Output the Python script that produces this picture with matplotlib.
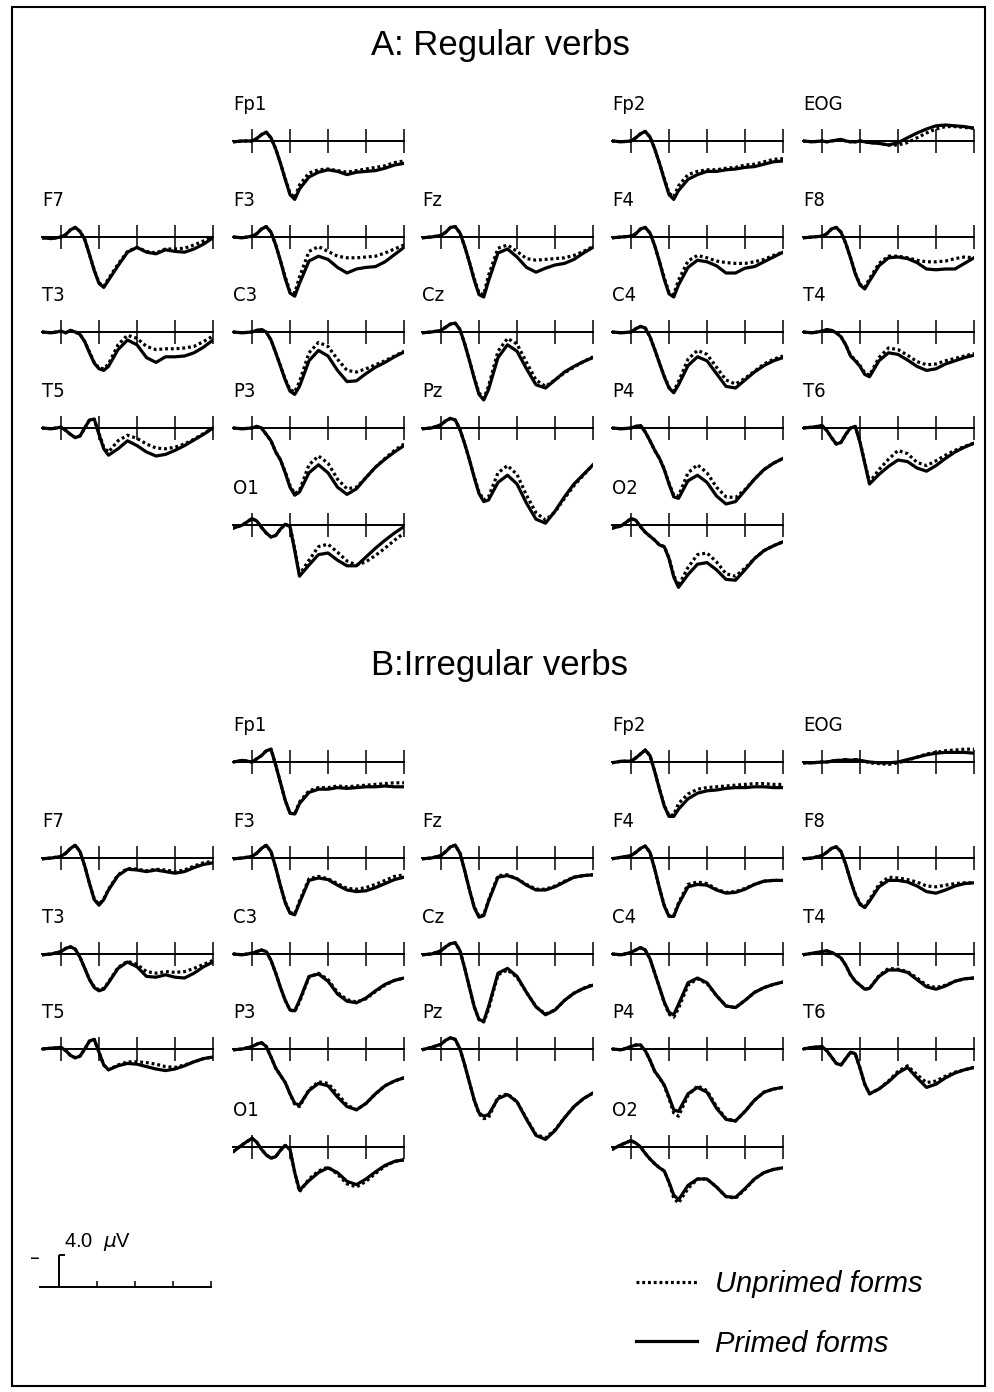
import matplotlib.pyplot as plt
from matplotlib.patches import Rectangle

# sample times (ms) shared by every waveform
times = [-100, -50, 0, 25, 50, 75, 100, 125, 150, 175, 200, 225, 250,
         300, 350, 400, 450, 500, 550, 600, 650, 700, 750, 800]

# amplitudes in microvolts (positive plotted downwards); _p = primed, _u = unprimed
# A: regular verbs
reg_Fp1_p = [0.1, 0.0, 0.0, -0.3, -0.8, -1.1, -0.4, 1.0, 2.8, 4.8, 6.7, 7.3, 6.0, 4.5, 3.9, 3.6, 3.8, 4.2, 3.9, 3.8, 3.7, 3.4, 3.0, 2.8]
reg_Fp1_u = [0.1, 0.0, 0.0, -0.3, -0.8, -1.1, -0.4, 1.0, 2.8, 4.7, 6.5, 7.1, 5.5, 4.0, 3.6, 3.5, 3.7, 3.9, 3.7, 3.5, 3.3, 3.1, 2.7, 2.5]
reg_Fp2_p = [0.0, 0.1, 0.0, -0.4, -0.9, -1.2, -0.5, 1.0, 2.8, 4.8, 6.7, 7.3, 6.2, 4.8, 4.2, 3.8, 3.8, 3.6, 3.5, 3.3, 3.2, 2.9, 2.6, 2.5]
reg_Fp2_u = [0.0, 0.1, 0.0, -0.4, -0.9, -1.2, -0.5, 1.0, 2.8, 4.7, 6.5, 7.0, 5.6, 4.2, 3.8, 3.6, 3.6, 3.4, 3.3, 3.0, 2.9, 2.6, 2.3, 2.2]
reg_EOG_p = [0.0, 0.1, 0.0, 0.1, 0.0, -0.1, -0.2, 0.0, 0.1, 0.1, 0.0, 0.1, 0.2, 0.3, 0.5, 0.2, -0.4, -1.0, -1.5, -1.9, -2.0, -1.9, -1.8, -1.6]
reg_EOG_u = [0.0, 0.1, 0.0, 0.1, 0.0, -0.1, -0.2, 0.0, 0.1, 0.1, 0.0, 0.1, 0.2, 0.3, 0.5, 0.5, 0.2, -0.4, -1.0, -1.5, -1.8, -1.8, -1.7, -1.6]
reg_F7_p = [0.1, 0.2, 0.0, -0.3, -0.9, -1.2, -0.7, 0.3, 2.2, 4.2, 5.8, 6.3, 5.4, 3.6, 1.9, 1.3, 1.9, 2.1, 1.6, 1.8, 1.9, 1.5, 0.9, 0.1]
reg_F7_u = [0.1, 0.2, 0.0, -0.3, -0.9, -1.2, -0.7, 0.3, 2.2, 4.1, 5.7, 6.2, 5.2, 3.4, 1.8, 1.3, 1.8, 2.0, 1.5, 1.5, 1.4, 1.0, 0.5, 0.0]
reg_F3_p = [0.0, 0.1, -0.1, -0.4, -1.0, -1.3, -0.6, 1.0, 3.0, 5.2, 7.0, 7.4, 5.8, 3.0, 2.4, 2.8, 3.8, 4.5, 4.0, 3.8, 3.7, 3.1, 2.2, 1.3]
reg_F3_u = [0.0, 0.1, -0.1, -0.4, -1.0, -1.3, -0.6, 1.0, 3.0, 5.0, 6.8, 7.0, 5.0, 1.8, 1.2, 1.8, 2.4, 2.6, 2.6, 2.5, 2.4, 2.0, 1.5, 1.0]
reg_Fz_p = [0.1, 0.0, -0.2, -0.6, -1.2, -1.3, -0.5, 1.2, 3.2, 5.4, 7.2, 7.5, 5.5, 2.0, 1.5, 2.5, 3.8, 4.4, 3.9, 3.5, 3.3, 2.8, 2.0, 1.3]
reg_Fz_u = [0.1, 0.0, -0.2, -0.6, -1.2, -1.3, -0.5, 1.2, 3.2, 5.2, 7.0, 7.2, 4.8, 1.4, 1.0, 1.8, 2.7, 2.9, 2.8, 2.7, 2.6, 2.3, 1.8, 1.2]
reg_F4_p = [0.1, 0.0, -0.1, -0.4, -1.0, -1.2, -0.5, 1.1, 3.1, 5.3, 7.1, 7.5, 6.0, 3.8, 2.9, 3.1, 3.6, 4.5, 4.5, 3.9, 3.7, 3.1, 2.5, 1.9]
reg_F4_u = [0.1, 0.0, -0.1, -0.4, -1.0, -1.2, -0.5, 1.1, 3.1, 5.1, 6.9, 7.2, 5.4, 3.0, 2.3, 2.6, 3.0, 3.2, 3.3, 3.3, 3.1, 2.8, 2.3, 1.9]
reg_F8_p = [0.1, 0.0, -0.1, -0.4, -1.0, -1.2, -0.6, 0.8, 2.6, 4.6, 6.0, 6.5, 5.5, 3.6, 2.6, 2.5, 2.7, 3.2, 4.0, 4.1, 4.0, 4.0, 3.3, 2.6]
reg_F8_u = [0.1, 0.0, -0.1, -0.4, -1.0, -1.2, -0.6, 0.8, 2.6, 4.5, 5.9, 6.3, 5.2, 3.3, 2.4, 2.4, 2.6, 2.9, 3.1, 3.1, 3.0, 2.7, 2.5, 2.6]
reg_T3_p = [0.0, 0.1, -0.1, 0.1, -0.2, 0.0, 0.3, 1.2, 2.6, 3.9, 4.6, 4.8, 4.3, 2.2, 1.0, 1.6, 3.2, 3.8, 3.1, 3.1, 3.0, 2.6, 1.9, 1.0]
reg_T3_u = [0.0, 0.1, -0.1, 0.1, -0.2, 0.0, 0.3, 1.2, 2.5, 3.8, 4.5, 4.6, 4.0, 1.6, 0.4, 0.8, 1.8, 2.2, 2.1, 2.1, 2.0, 1.8, 1.2, 0.5]
reg_C3_p = [0.0, 0.1, 0.0, -0.2, -0.3, 0.0, 1.0, 2.6, 4.3, 6.0, 7.4, 7.8, 6.8, 3.6, 2.3, 3.0, 4.8, 6.2, 6.1, 5.2, 4.4, 3.8, 3.1, 2.5]
reg_C3_u = [0.0, 0.1, 0.0, -0.2, -0.3, 0.0, 1.0, 2.6, 4.2, 5.9, 7.2, 7.5, 6.2, 2.6, 1.3, 1.8, 3.4, 4.8, 5.0, 4.6, 4.1, 3.6, 3.0, 2.4]
reg_Cz_p = [0.1, 0.0, -0.2, -0.6, -1.0, -1.1, -0.3, 1.5, 3.6, 5.8, 7.8, 8.5, 7.2, 3.2, 1.6, 2.4, 4.6, 6.6, 7.0, 6.0, 5.0, 4.3, 3.7, 3.2]
reg_Cz_u = [0.1, 0.0, -0.2, -0.6, -1.0, -1.1, -0.3, 1.5, 3.6, 5.7, 7.6, 8.3, 6.8, 2.4, 0.8, 1.5, 3.8, 6.0, 6.8, 6.0, 5.1, 4.4, 3.7, 3.1]
reg_C4_p = [0.0, 0.1, 0.0, -0.4, -0.7, -0.5, 0.6, 2.2, 3.9, 5.6, 7.0, 7.6, 6.6, 4.2, 3.1, 3.6, 5.2, 6.8, 7.0, 6.0, 5.0, 4.2, 3.6, 3.2]
reg_C4_u = [0.0, 0.1, 0.0, -0.4, -0.7, -0.5, 0.6, 2.2, 3.9, 5.5, 6.9, 7.4, 6.2, 3.4, 2.3, 2.8, 4.4, 6.0, 6.5, 5.8, 4.9, 4.0, 3.4, 3.0]
reg_T4_p = [0.0, 0.1, -0.1, -0.3, -0.2, 0.1, 0.6, 1.6, 3.0, 3.6, 4.3, 5.3, 5.6, 3.6, 2.6, 2.8, 3.5, 4.3, 4.8, 4.6, 4.0, 3.6, 3.2, 2.9]
reg_T4_u = [0.0, 0.1, -0.1, -0.3, -0.2, 0.1, 0.6, 1.6, 2.9, 3.5, 4.2, 5.1, 5.4, 3.2, 2.0, 2.2, 2.9, 3.7, 4.1, 4.0, 3.6, 3.3, 3.0, 2.7]
reg_T5_p = [0.0, 0.1, -0.1, 0.3, 0.8, 1.2, 1.0, 0.0, -1.0, -1.1, 0.8, 2.6, 3.4, 2.6, 1.6, 2.2, 3.0, 3.5, 3.3, 2.8, 2.2, 1.5, 0.8, 0.0]
reg_T5_u = [0.0, 0.1, -0.1, 0.3, 0.8, 1.2, 1.0, 0.0, -1.0, -1.1, 0.7, 2.4, 3.0, 1.6, 0.9, 1.3, 2.0, 2.5, 2.6, 2.4, 2.0, 1.4, 0.7, 0.0]
reg_P3_p = [0.0, 0.1, 0.0, -0.2, 0.0, 0.8, 1.6, 3.0, 4.0, 5.6, 7.4, 8.4, 8.0, 5.6, 4.6, 5.6, 7.4, 8.3, 7.6, 6.2, 4.9, 3.9, 3.0, 2.2]
reg_P3_u = [0.0, 0.1, 0.0, -0.2, 0.0, 0.8, 1.6, 3.0, 4.0, 5.5, 7.2, 8.2, 7.8, 4.6, 3.5, 4.4, 6.4, 7.6, 7.4, 6.2, 4.9, 3.8, 2.8, 2.0]
reg_Pz_p = [0.1, 0.0, -0.4, -0.9, -1.2, -1.0, 0.2, 2.0, 4.0, 6.2, 8.2, 9.2, 9.0, 6.8, 5.9, 7.0, 9.4, 11.4, 11.9, 10.4, 8.6, 7.0, 5.8, 4.6]
reg_Pz_u = [0.1, 0.0, -0.4, -0.9, -1.2, -1.0, 0.2, 2.0, 4.0, 6.1, 8.0, 9.0, 8.6, 5.6, 4.7, 5.8, 8.4, 10.6, 11.5, 10.5, 8.8, 7.2, 5.9, 4.6]
reg_P4_p = [0.0, 0.1, 0.0, -0.2, -0.3, 0.5, 1.6, 2.8, 3.8, 5.2, 7.0, 8.6, 8.8, 6.6, 5.9, 6.8, 8.5, 9.5, 9.2, 7.8, 6.4, 5.2, 4.4, 3.8]
reg_P4_u = [0.0, 0.1, 0.0, -0.2, -0.3, 0.5, 1.6, 2.8, 3.8, 5.1, 6.9, 8.4, 8.5, 5.6, 4.6, 5.6, 7.4, 8.6, 8.7, 7.7, 6.4, 5.2, 4.4, 3.8]
reg_T6_p = [0.0, -0.1, -0.3, 0.3, 1.2, 2.0, 1.8, 0.8, 0.0, -0.2, 1.8, 4.4, 7.0, 5.8, 4.8, 4.0, 4.2, 5.0, 5.4, 4.7, 3.8, 3.0, 2.4, 1.9]
reg_T6_u = [0.0, -0.1, -0.3, 0.3, 1.2, 2.0, 1.8, 0.8, 0.0, -0.2, 1.7, 4.3, 6.8, 5.2, 3.9, 2.8, 3.2, 4.3, 4.7, 4.1, 3.4, 2.8, 2.3, 1.9]
reg_O1_p = [0.4, 0.0, -0.8, -0.5, 0.3, 1.0, 1.5, 1.3, 0.5, -0.1, 0.2, 3.2, 6.4, 5.0, 3.7, 3.5, 4.4, 5.1, 5.1, 4.0, 2.9, 1.9, 1.0, 0.2]
reg_O1_u = [0.4, 0.0, -0.8, -0.5, 0.3, 1.0, 1.5, 1.3, 0.5, -0.1, 0.2, 3.0, 6.2, 4.4, 2.7, 2.4, 3.4, 4.5, 5.0, 4.6, 3.8, 2.9, 1.9, 1.0]
reg_O2_p = [0.4, 0.1, -0.8, -0.6, 0.2, 0.9, 1.4, 1.9, 2.5, 2.7, 4.2, 6.5, 7.8, 6.2, 4.9, 4.7, 5.6, 6.8, 6.9, 5.6, 4.2, 3.2, 2.6, 2.1]
reg_O2_u = [0.4, 0.1, -0.8, -0.6, 0.2, 0.9, 1.4, 1.9, 2.5, 2.7, 4.1, 6.3, 7.6, 5.3, 3.7, 3.5, 4.6, 6.1, 6.4, 5.4, 4.2, 3.2, 2.6, 2.1]

# B: irregular verbs
irr_Fp1_p = [0.0, -0.2, 0.0, -0.4, -0.8, -1.4, -1.6, 0.4, 2.6, 4.8, 6.4, 6.5, 5.2, 3.8, 3.4, 3.4, 3.2, 3.3, 3.2, 3.1, 3.1, 3.0, 3.1, 3.1]
irr_Fp1_u = [0.0, -0.2, 0.0, -0.4, -0.8, -1.4, -1.6, 0.4, 2.6, 4.8, 6.4, 6.5, 5.0, 3.6, 3.2, 3.2, 3.0, 3.1, 3.0, 2.9, 2.8, 2.7, 2.6, 2.6]
irr_Fp2_p = [0.1, -0.1, -0.1, -0.5, -1.0, -1.5, -0.8, 1.2, 3.4, 5.5, 6.8, 6.8, 5.9, 4.6, 3.9, 3.6, 3.5, 3.3, 3.2, 3.2, 3.1, 3.1, 3.2, 3.2]
irr_Fp2_u = [0.1, -0.1, -0.1, -0.5, -1.0, -1.5, -0.8, 1.2, 3.4, 5.4, 6.7, 6.6, 5.2, 4.0, 3.4, 3.2, 3.1, 3.0, 2.9, 2.8, 2.7, 2.7, 2.8, 2.8]
irr_EOG_p = [0.1, 0.1, 0.0, 0.0, -0.1, -0.2, -0.2, -0.3, -0.2, -0.3, -0.2, -0.1, 0.0, 0.1, 0.1, 0.0, -0.3, -0.6, -0.9, -1.1, -1.2, -1.2, -1.2, -1.1]
irr_EOG_u = [0.1, 0.1, 0.0, 0.0, -0.1, -0.2, -0.2, -0.3, -0.2, -0.3, -0.2, -0.1, 0.1, 0.2, 0.3, 0.1, -0.2, -0.6, -1.0, -1.2, -1.4, -1.5, -1.6, -1.6]
irr_F7_p = [0.1, 0.0, -0.2, -0.6, -1.2, -1.6, -0.8, 1.0, 3.2, 5.2, 5.9, 5.2, 4.0, 2.2, 1.4, 1.5, 1.7, 1.5, 1.7, 1.9, 1.7, 1.2, 0.8, 0.6]
irr_F7_u = [0.1, 0.0, -0.2, -0.6, -1.2, -1.6, -0.8, 1.0, 3.2, 5.1, 5.8, 5.1, 3.9, 2.1, 1.3, 1.4, 1.6, 1.4, 1.5, 1.7, 1.5, 1.0, 0.6, 0.4]
irr_F3_p = [0.1, 0.0, -0.2, -0.6, -1.2, -1.6, -0.8, 1.2, 3.5, 5.6, 6.9, 7.1, 5.6, 2.8, 2.5, 2.7, 3.4, 4.0, 4.2, 4.1, 3.7, 3.2, 2.7, 2.4]
irr_F3_u = [0.1, 0.0, -0.2, -0.6, -1.2, -1.6, -0.8, 1.2, 3.5, 5.5, 6.8, 7.0, 5.4, 2.6, 2.3, 2.6, 3.2, 3.8, 3.9, 3.7, 3.3, 2.8, 2.3, 2.1]
irr_Fz_p = [0.1, 0.0, -0.3, -0.8, -1.4, -1.6, -0.6, 1.6, 4.0, 6.2, 7.4, 7.2, 5.4, 2.4, 2.2, 2.6, 3.4, 4.0, 4.0, 3.6, 3.0, 2.4, 2.2, 2.1]
irr_Fz_u = [0.1, 0.0, -0.3, -0.8, -1.4, -1.6, -0.6, 1.6, 4.0, 6.1, 7.3, 7.1, 5.3, 2.2, 2.1, 2.6, 3.3, 3.9, 3.9, 3.5, 2.9, 2.4, 2.2, 2.1]
irr_F4_p = [0.1, -0.1, -0.3, -0.7, -1.2, -1.5, -0.7, 1.4, 3.8, 6.0, 7.3, 7.3, 5.8, 3.6, 3.3, 3.4, 4.0, 4.4, 4.3, 3.9, 3.3, 2.9, 2.8, 2.8]
irr_F4_u = [0.1, -0.1, -0.3, -0.7, -1.2, -1.5, -0.7, 1.4, 3.8, 5.9, 7.2, 7.2, 5.6, 3.3, 3.0, 3.2, 3.9, 4.3, 4.2, 3.8, 3.3, 2.9, 2.8, 2.8]
irr_F8_p = [0.1, 0.0, -0.3, -0.7, -1.2, -1.4, -0.8, 0.8, 2.8, 4.6, 5.8, 6.2, 5.4, 3.6, 2.8, 2.8, 3.0, 3.5, 4.2, 4.4, 4.0, 3.5, 3.2, 3.1]
irr_F8_u = [0.1, 0.0, -0.3, -0.7, -1.2, -1.4, -0.8, 0.8, 2.8, 4.5, 5.7, 6.1, 5.2, 3.3, 2.4, 2.5, 2.7, 3.0, 3.5, 3.6, 3.4, 3.2, 3.1, 3.1]
irr_T3_p = [0.1, 0.0, -0.3, -0.7, -0.9, -0.6, 0.4, 1.8, 3.2, 4.2, 4.6, 4.4, 3.6, 1.8, 1.0, 1.6, 2.8, 2.9, 2.6, 2.9, 3.0, 2.4, 1.6, 1.0]
irr_T3_u = [0.1, 0.0, -0.3, -0.7, -0.9, -0.6, 0.4, 1.8, 3.2, 4.1, 4.5, 4.3, 3.5, 1.7, 0.9, 1.3, 2.2, 2.4, 2.2, 2.3, 2.2, 1.8, 1.3, 0.8]
irr_C3_p = [0.0, 0.1, -0.1, -0.3, -0.5, -0.3, 0.8, 2.4, 4.2, 5.8, 7.0, 7.1, 5.8, 2.8, 2.5, 3.4, 5.0, 5.9, 6.1, 5.5, 4.6, 3.8, 3.3, 3.0]
irr_C3_u = [0.0, 0.1, -0.1, -0.3, -0.5, -0.3, 0.8, 2.4, 4.2, 5.8, 7.0, 7.2, 6.0, 2.9, 2.4, 3.2, 4.8, 5.7, 6.0, 5.6, 4.7, 3.9, 3.3, 3.0]
irr_Cz_p = [0.1, 0.0, -0.4, -0.9, -1.3, -1.4, -0.4, 1.8, 4.2, 6.6, 8.2, 8.4, 6.6, 2.4, 1.8, 2.8, 4.8, 6.6, 7.6, 7.0, 5.8, 4.9, 4.3, 3.9]
irr_Cz_u = [0.1, 0.0, -0.4, -0.9, -1.3, -1.4, -0.4, 1.8, 4.2, 6.6, 8.2, 8.5, 6.9, 2.6, 2.0, 2.9, 4.8, 6.6, 7.5, 7.0, 5.8, 4.9, 4.3, 3.8]
irr_C4_p = [0.0, 0.1, -0.2, -0.5, -0.8, -0.5, 0.6, 2.4, 4.2, 6.0, 7.3, 7.6, 6.3, 3.6, 3.0, 3.6, 5.2, 6.5, 6.7, 5.8, 4.8, 4.2, 3.8, 3.5]
irr_C4_u = [0.0, 0.1, -0.2, -0.5, -0.8, -0.5, 0.6, 2.4, 4.2, 6.1, 7.5, 7.9, 6.8, 3.9, 3.1, 3.7, 5.2, 6.5, 6.7, 5.8, 4.8, 4.2, 3.8, 3.5]
irr_T4_p = [0.1, -0.1, -0.3, -0.4, -0.2, 0.1, 0.5, 1.4, 2.6, 3.4, 3.9, 4.4, 4.3, 2.8, 2.0, 2.0, 2.3, 3.2, 4.1, 4.4, 4.0, 3.4, 3.1, 3.0]
irr_T4_u = [0.1, -0.1, -0.3, -0.4, -0.2, 0.1, 0.5, 1.4, 2.6, 3.4, 3.9, 4.4, 4.3, 2.7, 1.8, 1.9, 2.2, 3.0, 3.9, 4.2, 3.9, 3.4, 3.1, 3.0]
irr_T5_p = [0.0, -0.1, -0.2, 0.2, 0.8, 1.1, 0.9, 0.0, -1.0, -1.2, 0.4, 2.0, 2.6, 2.1, 1.8, 1.9, 2.2, 2.5, 2.7, 2.5, 2.1, 1.6, 1.2, 1.0]
irr_T5_u = [0.0, -0.1, -0.2, 0.2, 0.8, 1.1, 0.9, 0.0, -1.0, -1.2, 0.4, 2.0, 2.6, 2.0, 1.6, 1.6, 1.7, 1.9, 2.2, 2.3, 2.0, 1.6, 1.2, 1.0]
irr_P3_p = [0.1, 0.0, -0.3, -0.6, -0.8, -0.3, 1.0, 2.4, 3.3, 4.2, 5.6, 6.8, 7.0, 5.2, 4.3, 4.6, 6.0, 7.2, 7.6, 6.8, 5.6, 4.6, 4.0, 3.6]
irr_P3_u = [0.1, 0.0, -0.3, -0.6, -0.8, -0.3, 1.0, 2.4, 3.3, 4.2, 5.6, 6.9, 7.2, 5.1, 4.1, 4.3, 5.6, 7.0, 7.6, 6.8, 5.6, 4.6, 4.0, 3.6]
irr_Pz_p = [0.1, -0.2, -0.6, -1.1, -1.4, -1.2, 0.0, 2.0, 4.2, 6.4, 8.0, 8.4, 8.2, 6.2, 5.7, 6.6, 8.8, 10.8, 11.3, 10.2, 8.6, 7.2, 6.2, 5.5]
irr_Pz_u = [0.1, -0.2, -0.6, -1.1, -1.4, -1.2, 0.0, 2.0, 4.2, 6.4, 8.1, 8.7, 8.6, 6.0, 5.6, 6.6, 8.7, 10.7, 11.1, 10.1, 8.6, 7.2, 6.2, 5.5]
irr_P4_p = [0.0, 0.1, -0.3, -0.5, -0.5, 0.2, 1.4, 2.8, 3.6, 4.5, 6.0, 7.6, 7.8, 5.6, 4.8, 5.4, 7.4, 8.8, 9.0, 7.8, 6.4, 5.4, 5.0, 4.8]
irr_P4_u = [0.0, 0.1, -0.3, -0.5, -0.5, 0.2, 1.4, 2.8, 3.6, 4.6, 6.2, 8.0, 8.4, 5.8, 4.6, 5.2, 7.2, 8.7, 9.0, 7.8, 6.4, 5.4, 5.0, 4.8]
irr_T6_p = [0.0, -0.2, -0.3, 0.2, 1.0, 1.8, 2.0, 1.2, 0.4, 0.6, 2.4, 4.4, 5.6, 5.0, 4.1, 3.0, 2.3, 3.6, 4.8, 4.4, 3.6, 3.0, 2.6, 2.3]
irr_T6_u = [0.0, -0.2, -0.3, 0.2, 1.0, 1.8, 2.0, 1.2, 0.4, 0.6, 2.4, 4.4, 5.6, 5.0, 4.0, 2.8, 2.1, 3.2, 4.2, 4.0, 3.4, 2.9, 2.6, 2.3]
irr_O1_p = [0.6, -0.3, -1.1, -0.6, 0.3, 1.0, 1.4, 1.2, 0.4, -0.2, 0.3, 3.2, 5.4, 4.2, 3.2, 2.6, 3.2, 4.3, 4.7, 4.0, 3.1, 2.3, 1.8, 1.6]
irr_O1_u = [0.6, -0.3, -1.1, -0.6, 0.3, 1.0, 1.4, 1.2, 0.4, -0.2, 0.3, 3.2, 5.6, 4.0, 3.0, 2.5, 3.4, 4.6, 5.0, 4.3, 3.3, 2.4, 1.8, 1.6]
irr_O2_p = [0.3, -0.3, -0.8, -0.5, 0.0, 0.8, 1.5, 2.1, 2.6, 3.0, 4.4, 6.0, 6.6, 4.8, 4.0, 4.0, 5.0, 6.2, 6.3, 5.2, 4.0, 3.2, 2.8, 2.6]
irr_O2_u = [0.3, -0.3, -0.8, -0.5, 0.0, 0.8, 1.5, 2.1, 2.6, 3.0, 4.4, 6.4, 7.0, 5.2, 4.0, 4.0, 5.0, 6.2, 6.4, 5.3, 4.0, 3.2, 2.8, 2.6]

electrodes = ["Fp1", "Fp2", "EOG", "F7", "F3", "Fz", "F4", "F8",
              "T3", "C3", "Cz", "C4", "T4", "T5", "P3", "Pz", "P4", "T6",
              "O1", "O2"]
grid_col = [1, 3, 4, 0, 1, 2, 3, 4, 0, 1, 2, 3, 4, 0, 1, 2, 3, 4, 1, 3]
grid_row = [0, 0, 0, 1, 1, 1, 1, 1, 2, 2, 2, 2, 2, 3, 3, 3, 3, 3, 4, 4]

panel_titles = ["A: Regular verbs", "B:Irregular verbs"]
legend_labels = ["Unprimed forms", "Primed forms"]
scale_uv = 4.0
tick_ms = [0, 200, 400, 600, 800]

regular = {name: (globals()["reg_%s_p" % name], globals()["reg_%s_u" % name]) for name in electrodes}
irregular = {name: (globals()["irr_%s_p" % name], globals()["irr_%s_u" % name]) for name in electrodes}

# layout in pixels
W, H = 995, 1392
col_x = [42, 233, 422, 612, 803]
row_base = [[141, 237, 332, 428, 525], [762, 858, 954, 1049, 1147]]
title_y = [45, 665]
span = 171       # px covering -100..800 ms
px_uv = 8        # px per microvolt
uv_top, uv_bot = -6, 14

fig = plt.figure(figsize=(W / 100, H / 100), dpi=100)


def erp_axes(x0, base):
    ax = fig.add_axes([x0 / W, 1 - (base + uv_bot * px_uv) / H,
                       span / W, (uv_bot - uv_top) * px_uv / H])
    ax.set_xlim(-100, 800)
    ax.set_ylim(uv_bot, uv_top)   # negative up
    ax.patch.set_visible(False)
    for s in ["top", "left", "right"]:
        ax.spines[s].set_visible(False)
    ax.spines["bottom"].set_position(("data", 0))
    ax.spines["bottom"].set_linewidth(1.4)
    ax.set_yticks([])
    ax.set_xticks(tick_ms)
    ax.tick_params(axis="x", direction="inout", length=17, width=1.1,
                   labelbottom=False)
    return ax


handles = None
for p, data in enumerate([regular, irregular]):
    fig.text(500 / W, 1 - title_y[p] / H, panel_titles[p], ha="center",
             va="center", fontsize=25, family="Liberation Sans")
    for name, c, r in zip(electrodes, grid_col, grid_row):
        ax = erp_axes(col_x[c], row_base[p][r])
        primed, unprimed = data[name]
        l1, = ax.plot(times, primed, color="black", lw=2.3,
                      solid_joinstyle="round", label=legend_labels[1])
        l2, = ax.plot(times, unprimed, color="black", lw=2.3,
                      linestyle=(0, (0.9, 0.9)), label=legend_labels[0])
        ax.text(-100, -4.6, name, fontsize=14.5, ha="left", va="center",
                family="DejaVu Sans", fontstretch="condensed")
        if handles is None:
            handles = [l2, l1]

# calibration bar
ax = erp_axes(40, 1287)
ax.tick_params(axis="x", direction="in", length=4.5, width=1.1)
ax.set_xticks(tick_ms[1:])
ax.vlines(0, 0, -scale_uv, color="black", lw=1.4)
ax.hlines(-scale_uv, 0, 30, color="black", lw=1.4)
ax.text(-125, -3.6, "\u2013", fontsize=14, ha="center", va="center")
ax.text(28, -5.6, r"%.1f  $\mu$V" % scale_uv, fontsize=14.5, ha="left",
        va="center", family="Liberation Sans")

fig.legend(handles, legend_labels, loc="upper left",
           bbox_to_anchor=(636 / W, 1 - 1270 / H), frameon=False,
           prop={"family": "Liberation Sans", "style": "italic", "size": 21},
           handlelength=2.1, handletextpad=0.6, labelspacing=1.08,
           borderpad=0, borderaxespad=0)

fig.add_artist(Rectangle((12 / W, 1 - 1386 / H), 973 / W, 1379 / H,
                         transform=fig.transFigure, fill=False, lw=1.5,
                         ec="black"))

fig.savefig("out.png", dpi=100)
